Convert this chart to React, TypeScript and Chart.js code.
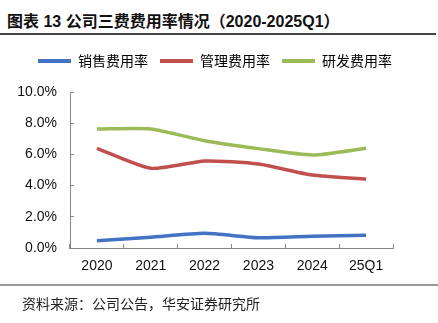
import React, { useEffect, useRef } from "react";
import { Chart, registerables } from "chart.js";

Chart.register(...registerables);

const titleText = "图表 13 公司三费费用率情况（2020-2025Q1）";
const sourceText = "资料来源：公司公告，华安证券研究所";
const categories = ["2020", "2021", "2022", "2023", "2024", "25Q1"];
const seriesNames = ["销售费用率", "管理费用率", "研发费用率"];
const salesRate = [0.47, 0.69, 0.94, 0.66, 0.75, 0.81];
const adminRate = [6.39, 5.11, 5.58, 5.38, 4.68, 4.42];
const rdRate = [7.63, 7.63, 6.88, 6.37, 5.96, 6.39];
const seriesColors = ["#4472C4", "#C0504D", "#9BBB59"];
const yMin = 0;
const yMax = 10;
const yStep = 2;

const legendHeightPlugin = {
  id: "legendHeight",
  beforeInit(chart: any) {
    const legend = chart.legend;
    if (!legend) return;
    const origFit = legend.fit;
    legend.fit = function () {
      origFit.call(this);
      this.height = 50;
    };
  },
};

export default function App() {
  const canvasRef = useRef<HTMLCanvasElement | null>(null);

  useEffect(() => {
    document.body.style.margin = "0";
    const canvas = canvasRef.current;
    if (!canvas) return;
    const tickFont = { family: "'Liberation Sans', Arial, sans-serif", size: 14 };
    const chart = new Chart(canvas, {
      type: "line",
      data: {
        labels: categories,
        datasets: [salesRate, adminRate, rdRate].map((d, i) => ({
          label: seriesNames[i],
          data: d,
          borderColor: seriesColors[i],
          backgroundColor: seriesColors[i],
          borderWidth: 3.5,
          pointRadius: 0,
          pointHoverRadius: 0,
          tension: 0.2,
          fill: false,
          yAxisID: "y",
        })),
      },
      options: {
        animation: false,
        responsive: false,
        devicePixelRatio: 1,
        layout: { padding: { top: 2, left: 0, right: 8, bottom: 0 } },
        plugins: {
          tooltip: { enabled: false },
          legend: {
            display: true,
            position: "top",
            labels: {
              boxWidth: 33,
              boxHeight: 4,
              padding: 12,
              color: "#222",
              font: { family: "'Noto Sans CJK SC', sans-serif", size: 14 },
              generateLabels: (c: any) =>
                c.data.datasets.map((ds: any, i: number) => ({
                  text: ds.label,
                  fillStyle: ds.borderColor,
                  strokeStyle: ds.borderColor,
                  lineWidth: 0,
                  hidden: false,
                  datasetIndex: i,
                })),
            },
          },
        },
        scales: {
          x: {
            type: "category",
            offset: true,
            afterFit: (axis: any) => {
              axis.height = 37;
            },
            grid: {
              display: true,
              offset: true,
              drawOnChartArea: false,
              drawTicks: true,
              tickLength: -4,
              color: "#868686",
            },
            border: { display: true, color: "#868686", width: 1 },
            ticks: { color: "#111", font: tickFont, padding: 14, maxRotation: 0 },
          },
          y: {
            position: "left",
            min: yMin,
            max: yMax,
            afterFit: (axis: any) => {
              axis.width = 70;
            },
            grid: {
              display: true,
              drawOnChartArea: false,
              drawTicks: true,
              tickLength: -4,
              color: "#868686",
            },
            border: { display: true, color: "#868686", width: 1 },
            ticks: {
              stepSize: yStep,
              color: "#111",
              font: tickFont,
              padding: 17,
              callback: (v: any) => Number(v).toFixed(1) + "%",
            },
          },
          yRight: {
            position: "right",
            display: true,
            afterFit: (axis: any) => {
              axis.width = 37;
            },
            grid: { display: false, drawTicks: false },
            border: { display: false },
            ticks: { display: false },
          },
        },
      },
      plugins: [legendHeightPlugin],
    } as any);
    return () => chart.destroy();
  }, []);

  return (
    <div
      style={{
        position: "absolute",
        left: 0,
        top: 0,
        width: 438,
        height: 323,
        background: "#fff",
        overflow: "hidden",
      }}
    >
      <div
        style={{
          position: "absolute",
          left: 7,
          top: 12,
          fontFamily: "'Liberation Sans', 'Noto Sans CJK SC', sans-serif",
          fontWeight: 700,
          fontSize: 16,
          lineHeight: "20px",
          color: "#111",
          whiteSpace: "nowrap",
        }}
      >
        {titleText}
      </div>
      <div
        style={{
          position: "absolute",
          left: 0,
          top: 33,
          width: 436,
          height: 2,
          background: "#444",
        }}
      />
      <canvas
        ref={canvasRef}
        width={438}
        height={245}
        style={{ position: "absolute", left: 0, top: 40, width: 438, height: 245 }}
      />
      <div
        style={{
          position: "absolute",
          left: 0,
          top: 284,
          width: 438,
          height: 2,
          background: "#999",
        }}
      />
      <div
        style={{
          position: "absolute",
          left: 22,
          top: 293,
          fontFamily: "'Noto Sans CJK SC', sans-serif",
          fontSize: 14,
          lineHeight: "20px",
          color: "#222",
          whiteSpace: "nowrap",
        }}
      >
        {sourceText}
      </div>
    </div>
  );
}
